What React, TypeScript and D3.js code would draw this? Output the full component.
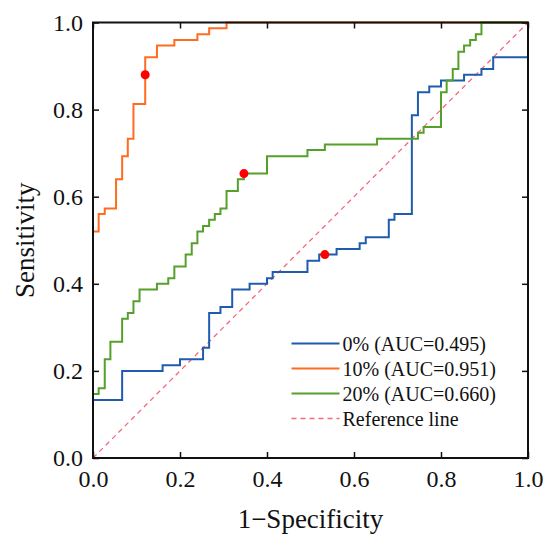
import React, { useRef, useEffect } from 'react';
import * as d3 from 'd3';

// ROC step points: at fpr[i] the curve jumps up to tpr[i]
const fpr0 = [0, 0, 0.067, 0.16, 0.2, 0.253, 0.267, 0.293, 0.32, 0.36, 0.4, 0.413, 0.493, 0.52, 0.56, 0.613, 0.627, 0.68, 0.693, 0.733, 0.747, 0.773, 0.8, 0.853, 0.893, 0.92, 1.0];
const tpr0 = [0, 0.133, 0.2, 0.213, 0.227, 0.253, 0.333, 0.347, 0.387, 0.4, 0.413, 0.427, 0.453, 0.467, 0.48, 0.493, 0.507, 0.547, 0.56, 0.787, 0.84, 0.853, 0.867, 0.88, 0.893, 0.92, 1.0];

const fpr10 = [0, 0, 0.013, 0.027, 0.053, 0.067, 0.08, 0.093, 0.12, 0.147, 0.187, 0.24, 0.267, 0.307, 1.0];
const tpr10 = [0, 0.52, 0.56, 0.573, 0.64, 0.693, 0.733, 0.813, 0.92, 0.947, 0.96, 0.973, 0.987, 1.0, 1.0];

const fpr20 = [0, 0, 0.013, 0.027, 0.04, 0.067, 0.08, 0.093, 0.107, 0.147, 0.173, 0.187, 0.213, 0.227, 0.24, 0.253, 0.267, 0.28, 0.293, 0.307, 0.333, 0.347, 0.4, 0.493, 0.533, 0.653, 0.747, 0.76, 0.8, 0.813, 0.827, 0.84, 0.853, 0.867, 0.88, 0.893, 1.0];
const tpr20 = [0, 0.147, 0.16, 0.227, 0.267, 0.32, 0.333, 0.36, 0.387, 0.4, 0.413, 0.44, 0.467, 0.493, 0.52, 0.533, 0.547, 0.56, 0.573, 0.613, 0.64, 0.653, 0.693, 0.707, 0.72, 0.733, 0.747, 0.76, 0.84, 0.867, 0.893, 0.933, 0.947, 0.96, 0.973, 1.0, 1.0];

// best cut-off points (1-specificity, sensitivity)
const cutX = [0.533, 0.12, 0.347];
const cutY = [0.467, 0.88, 0.653];

const seriesNames = ['0% (AUC=0.495)', '10% (AUC=0.951)', '20% (AUC=0.660)'];
const seriesColors = ['#1f5cae', '#ff6b1f', '#55a02a'];
const refColor = '#f7687a';
const ticks = [0, 0.2, 0.4, 0.6, 0.8, 1.0];

const App: React.FC = () => {
  const svgRef = useRef<SVGSVGElement>(null);

  useEffect(() => {
    document.body.style.margin = '0';
    const margin = { top: 22.5, right: 22, bottom: 83, left: 93 };
    const W = 550;
    const H = 541;
    const width = W - margin.left - margin.right;
    const height = H - margin.top - margin.bottom;
    const font = '"Liberation Serif", "Times New Roman", serif';

    const root = d3.select(svgRef.current).attr('width', W).attr('height', H);
    root.selectAll('*').remove();
    const svg = root.append('g').attr('transform', `translate(${margin.left},${margin.top})`);

    const x = d3.scaleLinear().domain([0, 1]).range([0, width]);
    const y = d3.scaleLinear().domain([0, 1]).range([height, 0]);

    const line = d3
      .line<[number, number]>()
      .x((d) => x(d[0]))
      .y((d) => y(d[1]))
      .curve(d3.curveStepAfter);

    // reference diagonal
    svg
      .append('line')
      .attr('x1', x(0))
      .attr('y1', y(0))
      .attr('x2', x(1))
      .attr('y2', y(1))
      .attr('stroke', refColor)
      .attr('stroke-width', 1.3)
      .attr('stroke-dasharray', '5,4');

    const curves = [
      d3.zip(fpr0, tpr0),
      d3.zip(fpr10, tpr10),
      d3.zip(fpr20, tpr20),
    ] as [number, number][][];

    curves.forEach((pts, i) => {
      svg
        .append('path')
        .datum(pts)
        .attr('fill', 'none')
        .attr('stroke', seriesColors[i])
        .attr('stroke-width', 2)
        .attr('d', line);
    });

    svg
      .selectAll('circle.cut')
      .data(d3.zip(cutX, cutY))
      .join('circle')
      .attr('class', 'cut')
      .attr('cx', (d) => x(d[0]))
      .attr('cy', (d) => y(d[1]))
      .attr('r', 4.5)
      .attr('fill', '#ff0000');

    // frame + inward ticks
    svg
      .append('rect')
      .attr('width', width)
      .attr('height', height)
      .attr('fill', 'none')
      .attr('stroke', '#111')
      .attr('stroke-width', 2);

    const tl = 6;
    const axStyle = (g: d3.Selection<SVGGElement, unknown, null, undefined>) => {
      g.select('.domain').remove();
      g.selectAll('.tick line').attr('stroke', '#111').attr('stroke-width', 1.5);
      g.selectAll('.tick text').attr('font-family', font).attr('font-size', 24).attr('fill', '#111');
    };

    svg
      .append('g')
      .attr('transform', `translate(0,${height})`)
      .call(d3.axisBottom(x).tickValues(ticks).tickSize(-tl).tickPadding(12).tickFormat(d3.format('.1f')))
      .call(axStyle);
    svg
      .append('g')
      .call(d3.axisLeft(y).tickValues(ticks).tickSize(-tl).tickPadding(10).tickFormat(d3.format('.1f')))
      .call(axStyle);
    svg
      .append('g')
      .call(d3.axisTop(x).tickValues(ticks).tickSize(-tl).tickFormat(() => ''))
      .call(axStyle);
    svg
      .append('g')
      .attr('transform', `translate(${width},0)`)
      .call(d3.axisRight(y).tickValues(ticks).tickSize(-tl).tickFormat(() => ''))
      .call(axStyle);

    // axis titles
    svg
      .append('text')
      .attr('x', width / 2)
      .attr('y', height + 70)
      .attr('text-anchor', 'middle')
      .attr('font-family', font)
      .attr('font-size', 27)
      .attr('fill', '#111')
      .text('1\u2212Specificity');
    svg
      .append('text')
      .attr('transform', `translate(${34 - margin.left},${height / 2}) rotate(-90)`)
      .attr('text-anchor', 'middle')
      .attr('font-family', font)
      .attr('font-size', 27)
      .attr('fill', '#111')
      .text('Sensitivity');

    // legend
    const legend = svg.append('g').attr('transform', `translate(${291.5 - margin.left},${343.5 - margin.top})`);
    const legendItems = [...seriesNames, 'Reference line'];
    const legendColors = [...seriesColors, refColor];
    legendItems.forEach((name, i) => {
      legend
        .append('line')
        .attr('x1', 0)
        .attr('x2', 48)
        .attr('y1', i * 25)
        .attr('y2', i * 25)
        .attr('stroke', legendColors[i])
        .attr('stroke-width', i === 3 ? 1.3 : 2)
        .attr('stroke-dasharray', i === 3 ? '5,4' : null);
      legend
        .append('text')
        .attr('x', 51)
        .attr('y', i * 25 + 7)
        .attr('font-family', font)
        .attr('font-size', 20)
        .attr('fill', '#111')
        .text(name);
    });
  }, []);

  return (
    <div>
      <svg ref={svgRef} />
    </div>
  );
};

export default App;
